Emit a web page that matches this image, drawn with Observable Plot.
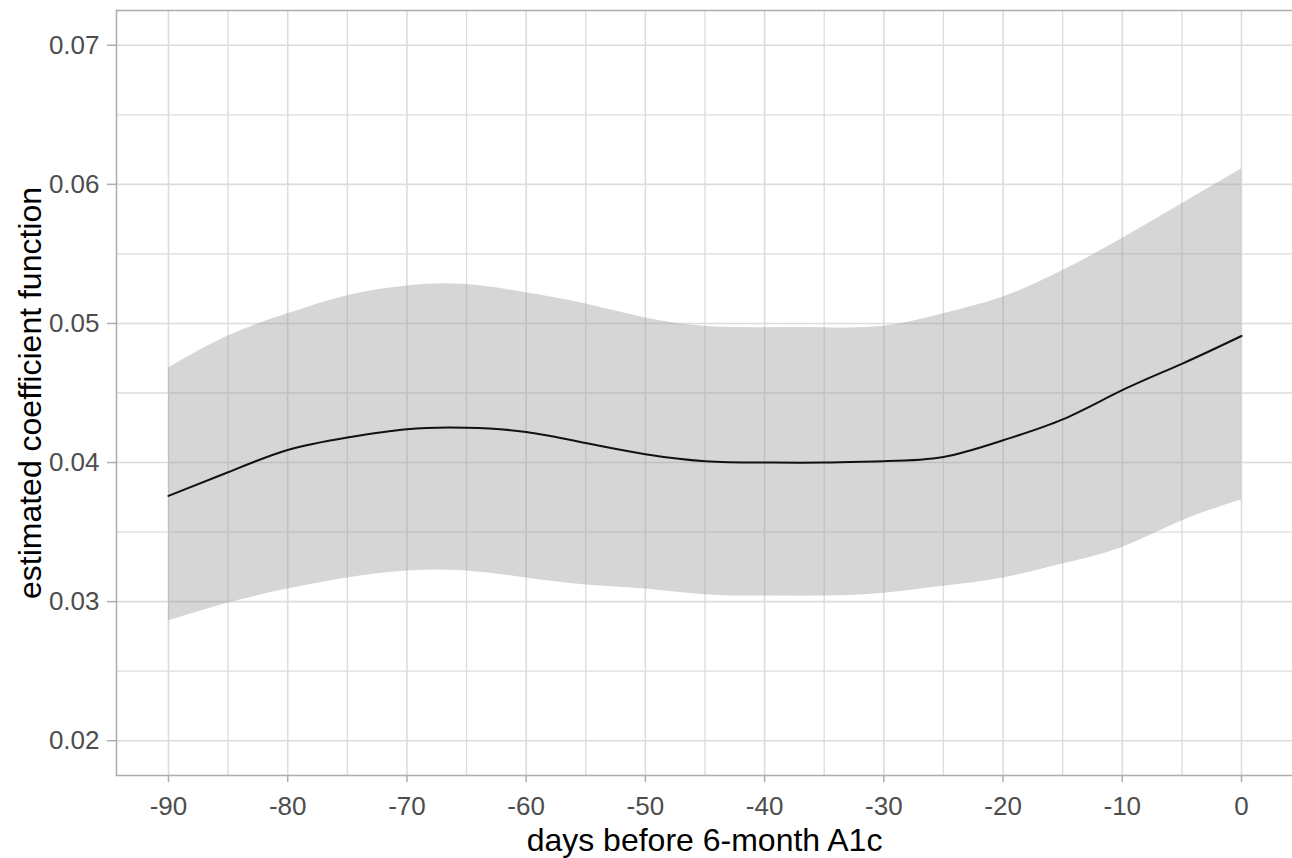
<!DOCTYPE html>
<html>
<head>
<meta charset="utf-8">
<script src="https://cdn.jsdelivr.net/npm/d3@7"></script>
<script src="https://cdn.jsdelivr.net/npm/@observablehq/plot@0.6"></script>
<style>
  html, body { margin: 0; padding: 0; background: #fff; overflow: hidden; }
</style>
</head>
<body>
<div id="chart"></div>
<script>
// Data
const days     = [-90, -85, -80, -75, -70, -65, -60, -55, -50, -45, -40, -35, -30, -25, -20, -15, -10, -5, 0];
const estimate = [0.0376, 0.0393, 0.0409, 0.0418, 0.0424, 0.0425, 0.0422, 0.0414, 0.0406, 0.0401, 0.0400, 0.0400, 0.0401, 0.0404, 0.0416, 0.0431, 0.0452, 0.0471, 0.0491];
const upper    = [0.0468, 0.0491, 0.0507, 0.0520, 0.0527, 0.0528, 0.0522, 0.0514, 0.0504, 0.0498, 0.0497, 0.0497, 0.0498, 0.0507, 0.0519, 0.0538, 0.0561, 0.0586, 0.0611];
const lower    = [0.0286, 0.0299, 0.0309, 0.0317, 0.0322, 0.0322, 0.0317, 0.0312, 0.0309, 0.0305, 0.0304, 0.0304, 0.0306, 0.0311, 0.0317, 0.0327, 0.0339, 0.0358, 0.0373];

const xTicks = [-90, -80, -70, -60, -50, -40, -30, -20, -10, 0];
const xMinor = [-85, -75, -65, -55, -45, -35, -25, -15, -5];
const yTicks = [0.02, 0.03, 0.04, 0.05, 0.06, 0.07];
const yMinor = [0.025, 0.035, 0.045, 0.055, 0.065];

const xTitle = "days before 6-month A1c";
const yTitle = "estimated coefficient function";

const data = days.map((d, i) => ({day: d, est: estimate[i], lo: lower[i], hi: upper[i]}));

const gridColor = "#dcdcdc";
const borderColor = "#adadad";

const chart = Plot.plot({
  width: 1292,
  height: 858,
  marginLeft: 116,
  marginRight: 0,
  marginTop: 10,
  marginBottom: 83,
  style: {fontFamily: "'Liberation Sans', Arial, sans-serif", background: "#fff"},
  x: {domain: [-94.36, 4.278]},
  y: {domain: [0.0175, 0.0725]},
  marks: [
    Plot.ruleX(xMinor, {stroke: gridColor, strokeWidth: 1.3}),
    Plot.ruleY(yMinor, {stroke: gridColor, strokeWidth: 1.3}),
    Plot.ruleX(xTicks, {stroke: gridColor, strokeWidth: 1.6}),
    Plot.ruleY(yTicks, {stroke: gridColor, strokeWidth: 1.6}),
    Plot.areaY(data, {x: "day", y1: "lo", y2: "hi", fill: "#999999", fillOpacity: 0.4, curve: "natural"}),
    Plot.lineY(data, {x: "day", y: "est", stroke: "#111", strokeWidth: 2, curve: "natural"}),
    Plot.frame({anchor: "top", stroke: borderColor, strokeWidth: 1.5}),
    Plot.frame({anchor: "left", stroke: borderColor, strokeWidth: 1.5}),
    Plot.frame({anchor: "bottom", stroke: borderColor, strokeWidth: 1.5}),
    Plot.axisX(xTicks, {
      tickSize: 7, tickPadding: 14, fontSize: 26, stroke: borderColor, strokeWidth: 1.5,
      fill: "#4d4d4d", tickFormat: d => String(d), label: null
    }),
    Plot.axisY(yTicks, {
      tickSize: 9, tickPadding: 8, fontSize: 26, stroke: borderColor, strokeWidth: 1.5,
      fill: "#4d4d4d", tickFormat: d3.format(".2f"), label: null
    }),
    Plot.text([xTitle], {frameAnchor: "bottom", text: d => d, dy: 65, fontSize: 32, fill: "#000", lineAnchor: "middle", textAnchor: "middle"}),
    Plot.text([yTitle], {frameAnchor: "left", text: d => d, dx: -86, rotate: -90, fontSize: 32, fill: "#000", lineAnchor: "middle", textAnchor: "middle"})
  ]
});
document.getElementById("chart").appendChild(chart);
</script>
</body>
</html>
